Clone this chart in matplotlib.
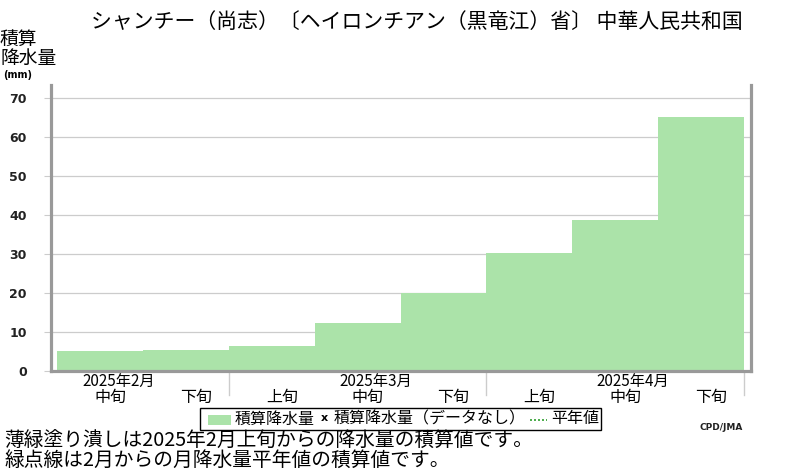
import matplotlib
matplotlib.use("Agg")
import matplotlib.pyplot as plt
from matplotlib.patches import Rectangle
from matplotlib.lines import Line2D

plt.rcParams['font.family'] = ['Noto Sans CJK JP', 'DejaVu Sans']

# accumulated precipitation per decade (mm)
decades = ["中旬", "下旬", "上旬", "中旬", "下旬", "上旬", "中旬", "下旬"]
precip = [5.1, 5.4, 6.4, 12.4, 20.0, 30.3, 38.7, 64.9]
months = ["2025年2月", "2025年3月", "2025年4月"]
month_mid = [0, 3, 6]          # decade index that carries the month label
month_edges = [2, 5, 8]        # separators between months
yticks = [0, 10, 20, 30, 40, 50, 60, 70]

W, H = 800, 470
fig = plt.figure(figsize=(W / 100, H / 100), dpi=100)


def px(x, y):
    return x / W, 1 - y / H


ax = fig.add_axes([50.5 / W, 1 - 371 / H, 700 / W, 286 / H])
x = list(range(len(precip)))
ax.bar(x, precip, width=1.0, align='edge', color='#abe3a9', edgecolor='none', zorder=2)

ax.set_xlim(-0.08, 8.08)
ax.set_ylim(0, 73.2)
ax.set_yticks(yticks)
ax.set_yticklabels([str(v) for v in yticks], fontsize=9, family='DejaVu Sans',
                   fontweight='bold', color='#222222')
ax.tick_params(axis='y', length=5, width=0.8, color='#cccccc', pad=12)
ax.set_xticks([])
ax.grid(axis='y', color='#cccccc', lw=0.9, zorder=1)
for s in ['left', 'bottom', 'right']:
    ax.spines[s].set_color('#999999')
    ax.spines[s].set_linewidth(2.3)
ax.spines['top'].set_visible(False)

# month separators below the axis
trans = ax.get_xaxis_transform()
for e in month_edges:
    ax.plot([e, e], [-0.003, -0.085], transform=trans, color='#cccccc', lw=1.0, clip_on=False)

# decade and month labels
for i, d in enumerate(decades):
    xp = ax.transData.transform((i + 0.5, 0))[0]
    fig.text(xp / W + 10 / W, 1 - 397 / H, d, ha='center', va='center', fontsize=11.5)
for m, i in zip(months, month_mid):
    xp = ax.transData.transform((i + 0.5, 0))[0]
    fig.text(xp / W + 18 / W, 1 - 381 / H, m, ha='center', va='center', fontsize=11)

# title and y label
fig.text(*px(417, 22), "シャンチー（尚志）〔ヘイロンチアン（黒竜江）省〕 中華人民共和国",
         ha='center', va='center', fontsize=15)
fig.text(*px(0, 49), "積算\n降水量", ha='left', va='center', fontsize=13.5, linespacing=0.92)
fig.text(*px(3, 75), "(mm)", ha='left', va='center', fontsize=7, fontweight='bold',
         family='DejaVu Sans')

# legend box
fig.patches.append(Rectangle(px(200, 430), 401 / W, 22 / H, transform=fig.transFigure,
                             facecolor='white', edgecolor='black', lw=1.0))
fig.patches.append(Rectangle(px(208, 425), 23 / W, 10 / H, transform=fig.transFigure,
                             facecolor='#abe3a9', edgecolor='none'))
fig.text(*px(235, 419), "積算降水量", ha='left', va='center', fontsize=11.5)
fig.text(*px(324, 418), "x", ha='center', va='center', fontsize=8, fontweight='bold',
         family='DejaVu Sans')
fig.text(*px(334, 419), "積算降水量（データなし）", ha='left', va='center', fontsize=11.5)
fig.lines.append(Line2D([530 / W, 547 / W], [1 - 420 / H, 1 - 420 / H], transform=fig.transFigure,
                        color='#2e9e2e', lw=1.2, ls=(0, (1.2, 1.2))))
fig.text(*px(551, 419), "平年値", ha='left', va='center', fontsize=11.5)

fig.text(*px(700, 427), "CPD/JMA", ha='left', va='center', fontsize=6.5, fontweight='bold',
         family='DejaVu Sans', color='#222222')

# notes
fig.text(*px(4, 441), "薄緑塗り潰しは2025年2月上旬からの降水量の積算値です。",
         ha='left', va='center', fontsize=14.2)
fig.text(*px(4, 460), "緑点線は2月からの月降水量平年値の積算値です。",
         ha='left', va='center', fontsize=14.2)

fig.savefig("out.png", dpi=100)
